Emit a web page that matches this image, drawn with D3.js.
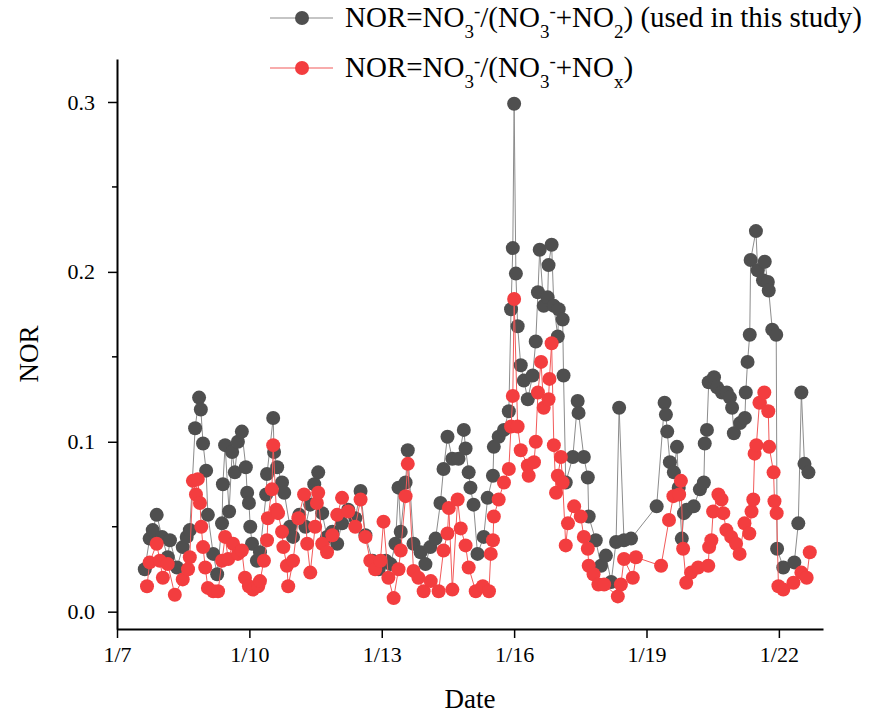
<!DOCTYPE html>
<html>
<head>
<meta charset="utf-8">
<script src="https://cdn.jsdelivr.net/npm/d3@7"></script>
<style>
  body { margin: 0; background: #fff; }
  svg { display: block; font-family: "Liberation Serif", "Times New Roman", serif; }
</style>
</head>
<body>
<div id="chart"></div>
<script>
// x values are day of January (decimal), y values are NOR
const daysNO2 = [7.63, 7.74, 7.81, 7.90, 8.02, 8.15, 8.20, 8.36, 8.49, 8.58, 8.65, 8.77, 8.86, 8.90, 8.95, 9.02, 9.06, 9.18, 9.27, 9.38,
  9.40, 9.45, 9.54, 9.61, 9.67, 9.74, 9.83, 9.92, 9.95, 9.99, 10.02, 10.06, 10.17, 10.24, 10.38, 10.40, 10.54, 10.56, 10.63, 10.74,
  10.79, 10.92, 10.99, 11.13, 11.27, 11.38, 11.47, 11.56, 11.65, 11.76, 11.88, 11.99, 12.10, 12.24, 12.40, 12.52, 12.63, 12.79, 12.93, 13.09,
  13.20, 13.31, 13.38, 13.43, 13.54, 13.59, 13.72, 13.88, 13.99, 14.10, 14.22, 14.33, 14.40, 14.49, 14.60, 14.74, 14.86, 14.90, 14.97, 15.01,
  15.08, 15.17, 15.31, 15.40, 15.52, 15.54, 15.65, 15.77, 15.88, 15.93, 15.97, 16.00, 16.04, 16.08, 16.15, 16.22, 16.31, 16.42, 16.49, 16.54,
  16.58, 16.67, 16.76, 16.78, 16.85, 16.90, 16.99, 17.01, 17.10, 17.12, 17.17, 17.33, 17.44, 17.46, 17.58, 17.67, 17.69, 17.85, 17.97, 18.08,
  18.20, 18.31, 18.38, 18.49, 18.65, 19.23, 19.41, 19.44, 19.47, 19.53, 19.62, 19.69, 19.73, 19.80, 19.85, 19.91, 20.07, 20.21, 20.30, 20.32,
  20.37, 20.41, 20.53, 20.60, 20.71, 20.82, 20.89, 20.94, 20.98, 21.12, 21.23, 21.25, 21.29, 21.34, 21.36, 21.48, 21.52, 21.64, 21.68, 21.75,
  21.77, 21.85, 21.94, 21.96, 22.10, 22.35, 22.44, 22.51, 22.58, 22.67];
const norNO2 = [0.025, 0.043, 0.048, 0.057, 0.044, 0.032, 0.042, 0.026, 0.038, 0.044, 0.048, 0.108, 0.126, 0.119, 0.099, 0.083, 0.057, 0.034, 0.022, 0.052,
  0.075, 0.098, 0.059, 0.094, 0.082, 0.100, 0.106, 0.085, 0.070, 0.064, 0.050, 0.040, 0.030, 0.035, 0.069, 0.081, 0.114, 0.094, 0.085, 0.076,
  0.070, 0.050, 0.044, 0.057, 0.050, 0.063, 0.075, 0.082, 0.058, 0.044, 0.047, 0.040, 0.052, 0.060, 0.055, 0.071, 0.045, 0.030, 0.025, 0.030,
  0.028, 0.040, 0.073, 0.047, 0.076, 0.095, 0.040, 0.035, 0.028, 0.038, 0.043, 0.064, 0.084, 0.103, 0.090, 0.090, 0.107, 0.096, 0.082, 0.073,
  0.063, 0.034, 0.044, 0.067, 0.080, 0.097, 0.103, 0.107, 0.118, 0.178, 0.214, 0.299, 0.199, 0.168, 0.145, 0.136, 0.125, 0.139, 0.159, 0.188,
  0.213, 0.180, 0.185, 0.204, 0.216, 0.180, 0.162, 0.178, 0.172, 0.139, 0.076, 0.091, 0.124, 0.117, 0.091, 0.079, 0.056, 0.042, 0.027, 0.033,
  0.0175, 0.041, 0.120, 0.042, 0.043, 0.062, 0.123, 0.116, 0.106, 0.088, 0.082, 0.097, 0.073, 0.043, 0.058, 0.060, 0.062, 0.072, 0.076, 0.099,
  0.107, 0.135, 0.138, 0.132, 0.129, 0.129, 0.126, 0.120, 0.105, 0.111, 0.114, 0.129, 0.147, 0.163, 0.207, 0.224, 0.201, 0.195, 0.206, 0.194,
  0.189, 0.166, 0.163, 0.037, 0.026, 0.029, 0.052, 0.129, 0.087, 0.082];

const daysNOx = [7.68, 7.74, 7.90, 7.97, 8.04, 8.15, 8.31, 8.49, 8.61, 8.65, 8.72, 8.79, 8.83, 8.88, 8.91, 8.95, 9.00, 9.06, 9.18, 9.29,
  9.38, 9.45, 9.52, 9.63, 9.74, 9.83, 9.90, 9.99, 10.08, 10.20, 10.24, 10.33, 10.40, 10.42, 10.51, 10.54, 10.61, 10.65, 10.74, 10.77,
  10.85, 10.88, 10.99, 11.11, 11.24, 11.31, 11.38, 11.49, 11.53, 11.56, 11.65, 11.76, 11.88, 11.99, 12.10, 12.24, 12.40, 12.52, 12.63, 12.74,
  12.85, 12.97, 13.04, 13.15, 13.27, 13.38, 13.43, 13.54, 13.59, 13.72, 13.83, 13.95, 14.11, 14.29, 14.40, 14.49, 14.52, 14.60, 14.72, 14.79,
  14.90, 14.97, 15.13, 15.29, 15.43, 15.47, 15.52, 15.54, 15.65, 15.77, 15.88, 15.93, 15.97, 16.00, 16.08, 16.15, 16.31, 16.33, 16.45, 16.49,
  16.54, 16.61, 16.67, 16.78, 16.80, 16.85, 16.90, 16.95, 16.99, 17.06, 17.10, 17.17, 17.22, 17.36, 17.51, 17.58, 17.67, 17.69, 17.80, 17.91,
  18.04, 18.35, 18.42, 18.49, 18.69, 18.76, 19.33, 19.51, 19.61, 19.74, 19.78, 19.83, 19.90, 20.01, 20.17, 20.40, 20.42, 20.47, 20.51, 20.63,
  20.70, 20.74, 20.81, 20.92, 21.03, 21.11, 21.22, 21.33, 21.38, 21.42, 21.45, 21.49, 21.56, 21.67, 21.76, 21.78, 21.88, 21.90, 21.95, 21.99,
  22.10, 22.33, 22.51, 22.63, 22.70];
const norNOx = [0.015, 0.029, 0.040, 0.030, 0.020, 0.028, 0.010, 0.019, 0.025, 0.032, 0.077, 0.069, 0.078, 0.064, 0.050, 0.038, 0.026, 0.014, 0.012, 0.012,
  0.030, 0.044, 0.031, 0.040, 0.034, 0.036, 0.020, 0.015, 0.013, 0.015, 0.018, 0.030, 0.042, 0.055, 0.072, 0.098, 0.060, 0.058, 0.047, 0.038,
  0.027, 0.015, 0.030, 0.055, 0.069, 0.040, 0.023, 0.050, 0.064, 0.070, 0.040, 0.035, 0.045, 0.057, 0.067, 0.059, 0.050, 0.066, 0.044, 0.030,
  0.025, 0.030, 0.053, 0.020, 0.008, 0.025, 0.036, 0.068, 0.087, 0.024, 0.020, 0.012, 0.018, 0.012, 0.036, 0.046, 0.061, 0.013, 0.066, 0.049,
  0.039, 0.026, 0.012, 0.015, 0.012, 0.034, 0.042, 0.056, 0.066, 0.076, 0.084, 0.109, 0.127, 0.184, 0.109, 0.095, 0.086, 0.080, 0.088, 0.100,
  0.129, 0.147, 0.120, 0.125, 0.137, 0.158, 0.098, 0.070, 0.080, 0.091, 0.076, 0.039, 0.052, 0.062, 0.056, 0.044, 0.037, 0.027, 0.022, 0.016,
  0.016, 0.009, 0.016, 0.031, 0.020, 0.032, 0.027, 0.054, 0.068, 0.069, 0.077, 0.037, 0.017, 0.023, 0.026, 0.027, 0.038, 0.042, 0.059, 0.069,
  0.066, 0.058, 0.048, 0.044, 0.040, 0.034, 0.052, 0.046, 0.059, 0.066, 0.093, 0.098, 0.123, 0.129, 0.118, 0.097, 0.082, 0.065, 0.058, 0.015,
  0.013, 0.017, 0.023, 0.020, 0.035];

const xTicks = [7, 10, 13, 16, 19, 22];
const yTicks = [0, 0.1, 0.2, 0.3];
const yMinorTicks = [0.05, 0.15, 0.25];

const width = 877, height = 720;
const margin = { top: 59, right: 54, bottom: 91, left: 117 };

const svg = d3.select("#chart").append("svg")
  .attr("width", width)
  .attr("height", height);

const x = d3.scaleLinear()
  .domain([7, 23])
  .range([margin.left, width - margin.right]);

const y = d3.scaleLinear()
  .domain([-0.0102, 0.3253])
  .range([height - margin.bottom, margin.top]);

// axes
const xAxis = svg.append("g")
  .attr("transform", `translate(0,${height - margin.bottom})`)
  .call(d3.axisBottom(x).tickValues(xTicks).tickFormat(d => "1/" + d).tickSize(9).tickSizeOuter(0));

const yAxis = svg.append("g")
  .attr("transform", `translate(${margin.left},0)`)
  .call(d3.axisLeft(y).tickValues(yTicks).tickFormat(d3.format(".1f")).tickSize(9).tickSizeOuter(0));

yAxis.selectAll(".minor")
  .data(yMinorTicks)
  .join("line")
  .attr("class", "minor")
  .attr("x1", -5).attr("x2", 0)
  .attr("y1", d => y(d)).attr("y2", d => y(d))
  .attr("stroke", "#000").attr("stroke-width", 1.5);

[xAxis, yAxis].forEach(g => {
  g.select(".domain").attr("stroke-width", 2);
  g.selectAll(".tick line").attr("stroke-width", 1.5);
  g.selectAll(".tick text")
    .attr("font-family", "Liberation Serif, serif")
    .attr("font-size", 22)
    .attr("fill", "#000");
});
xAxis.selectAll(".tick text").attr("dy", "0.95em");
yAxis.selectAll(".tick text").attr("dx", "-0.45em");

// axis titles
svg.append("text")
  .attr("x", (margin.left + width - margin.right) / 2)
  .attr("y", 708)
  .attr("text-anchor", "middle")
  .attr("font-size", 27)
  .text("Date");

svg.append("text")
  .attr("transform", `translate(38,${(margin.top + height - margin.bottom) / 2 + 10}) rotate(-90)`)
  .attr("text-anchor", "middle")
  .attr("font-size", 27)
  .text("NOR");

// series
const series = [
  { days: daysNO2, vals: norNO2, line: "#8c8c8c", dot: "#4f4f4f" },
  { days: daysNOx, vals: norNOx, line: "#f25a5a", dot: "#f33d3f" }
];

const line = d3.line()
  .x(d => x(d[0]))
  .y(d => y(d[1]));

series.forEach(s => {
  const pts = s.days.map((d, i) => [d, s.vals[i]]);
  svg.append("path")
    .datum(pts)
    .attr("fill", "none")
    .attr("stroke", s.line)
    .attr("stroke-width", 1)
    .attr("d", line);
  svg.append("g")
    .selectAll("circle")
    .data(pts)
    .join("circle")
    .attr("cx", d => x(d[0]))
    .attr("cy", d => y(d[1]))
    .attr("r", 7)
    .attr("fill", s.dot);
});

// legend
const legendItems = [
  { color: series[0], parts: [["NOR=NO", ""], ["3", "sub"], ["-", "super"], ["/(NO", ""], ["3", "sub"], ["-", "super"], ["+NO", ""], ["2", "sub"], [") (used in this study)", ""]] },
  { color: series[1], parts: [["NOR=NO", ""], ["3", "sub"], ["-", "super"], ["/(NO", ""], ["3", "sub"], ["-", "super"], ["+NO", ""], ["x", "sub"], [")", ""]] }
];

legendItems.forEach((item, i) => {
  const ly = 18 + i * 50;
  const g = svg.append("g");
  g.append("line")
    .attr("x1", 270).attr("x2", 333)
    .attr("y1", ly).attr("y2", ly)
    .attr("stroke", item.color.line).attr("stroke-width", 1.2);
  g.append("circle")
    .attr("cx", 302).attr("cy", ly).attr("r", 7)
    .attr("fill", item.color.dot);
  const t = g.append("text")
    .attr("x", 345)
    .attr("y", ly + 9)
    .attr("font-size", 29);
  item.parts.forEach(([txt, shift]) => {
    const ts = t.append("tspan").text(txt);
    if (shift) ts.attr("baseline-shift", shift).attr("font-size", 19);
  });
});
</script>
</body>
</html>
